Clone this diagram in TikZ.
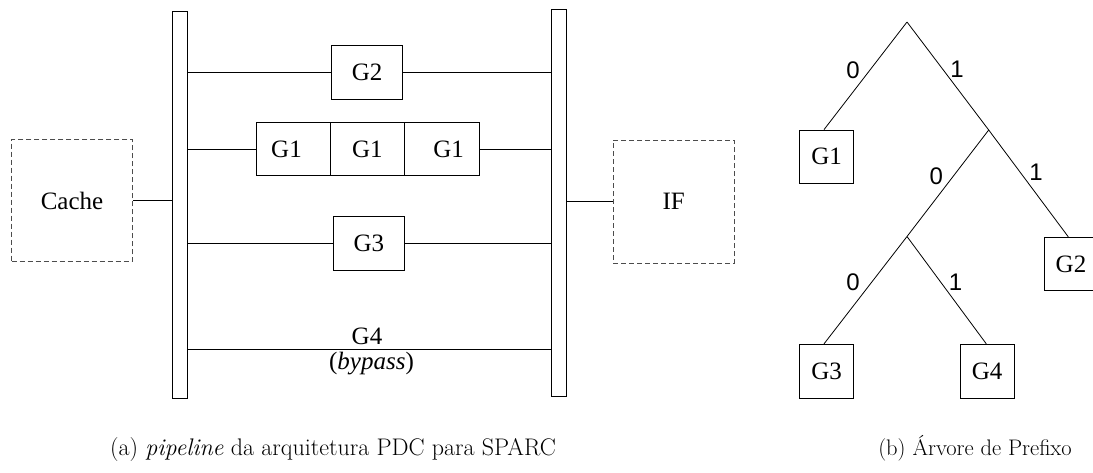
\documentclass[tikz,border=0pt]{standalone}
\usepackage{fontspec}
\newfontfamily\timesf{Liberation Serif}
\newfontfamily\arialf{Liberation Sans}
\begin{document}
\begin{tikzpicture}[x=1pt,y=-1pt,
  lw/.style={line width=0.9pt},
  gbox/.style={draw,lw,inner sep=0pt,minimum width=54pt,minimum height=54pt,font=\timesf\fontsize{25}{30}\selectfont},
  dbox/.style={draw=black!70,line width=0.9pt,dash pattern=on 5pt off 3pt,inner sep=0pt,font=\timesf\fontsize{25}{30}\selectfont},
  bar/.style={draw,lw,fill=white,inner sep=0pt},
  gtext/.style={inner sep=0pt,font=\timesf\fontsize{25}{30}\selectfont},
  lab/.style={inner sep=0pt,font=\arialf\fontsize{24}{29}\selectfont},
  tline/.style={line width=0.8pt},
  capt/.style={anchor=base,inner sep=0pt}]
\useasboundingbox (0,0) rectangle (1093,472);
\clip (0,0) rectangle (1093,472);
% ---- pipeline ----
\node[bar,minimum width=15.4pt,minimum height=387.3pt] (lbar) at (180,204.7) {};
\node[bar,minimum width=15pt,minimum height=387pt] (rbar) at (558.5,203.2) {};
\node[dbox,minimum width=120.6pt,minimum height=122.4pt] (cache) at (72,200.5) {Cache};
\node[dbox,minimum width=120.7pt,minimum height=123.3pt] (if) at (673.7,201.7) {IF};
\node[gbox,minimum width=71pt,minimum height=54pt] (g2) at (367.2,72.7) {G2};
\node[gbox,minimum width=73.6pt,minimum height=53.4pt] (g1a) at (293.5,149) {\hspace*{-14pt}G1};
\node[gbox,minimum width=74pt,minimum height=53.4pt] (g1b) at (367.3,149) {G1};
\node[gbox,minimum width=74.7pt,minimum height=53.4pt] (g1c) at (441.65,149) {G1\hspace*{-14pt}};
\node[gbox,minimum width=71pt,minimum height=53.6pt] (g3) at (368.8,243.5) {G3};
\coordinate (g4c) at (370,349.3);
\node[gtext,anchor=base] (g4t) at (367,344) {G4};
\node[gtext,anchor=base] (bp) at (371.5,369.5) {(\textit{bypass})};
\draw[lw] (cache.east) -- (lbar.west |- cache.east);
\draw[lw] (rbar.east |- if.west) -- (if.west);
\draw[lw] (lbar.east |- g2.west) -- (g2.west);
\draw[lw] (g2.east) -- (rbar.west |- g2.east);
\draw[lw] (lbar.east |- g1a.west) -- (g1a.west);
\draw[lw] (g1c.east) -- (rbar.west |- g1c.east);
\draw[lw] (lbar.east |- g3.west) -- (g3.west);
\draw[lw] (g3.east) -- (rbar.west |- g3.east);
\draw[lw] (lbar.east |- g4c) -- (rbar.west |- g4c);
% ---- tree ----
\coordinate (root) at (907,22);
\coordinate (n1) at (988.7,130);
\coordinate (n2) at (907,236.5);
\node[gbox,minimum width=54pt,minimum height=53.3pt] (t1) at (826.7,156.7) {G1};
\node[gbox,minimum width=54pt,minimum height=53.4pt] (t2) at (1071,264) {G2};
\node[gbox,minimum width=54pt,minimum height=54.4pt] (t3) at (826.7,371.5) {G3};
\node[gbox,minimum width=53.7pt,minimum height=54.4pt] (t4) at (987.2,371.5) {G4};
\draw[tline] (root) -- ([xshift=-2.7pt]t1.north);
\draw[tline] (root) -- (n1);
\draw[tline] (n1) -- (n2);
\draw[tline] (n1) -- ([xshift=-2.7pt]t2.north);
\draw[tline] (n2) -- ([xshift=-2.7pt]t3.north);
\draw[tline] (n2) -- ([xshift=-0.9pt]t4.north);
\node[lab] (l1) at (853,70.7) {0};
\node[lab] (l2) at (957,69.3) {1};
\node[lab] (l3) at (936.3,176.7) {0};
\node[lab] (l4) at (1036,172.7) {1};
\node[lab] (l5) at (853,282.7) {0};
\node[lab] (l6) at (955.5,282.7) {1};
% ---- captions ----
\node[capt,font=\fontsize{24}{29}\selectfont] (capa) at (333,455) {(a) \textit{pipeline} da arquitetura PDC para SPARC};
\node[capt,font=\fontsize{22.5}{27}\selectfont] (capb) at (975,455) {(b) Árvore de Prefixo};
\end{tikzpicture}
\end{document}
